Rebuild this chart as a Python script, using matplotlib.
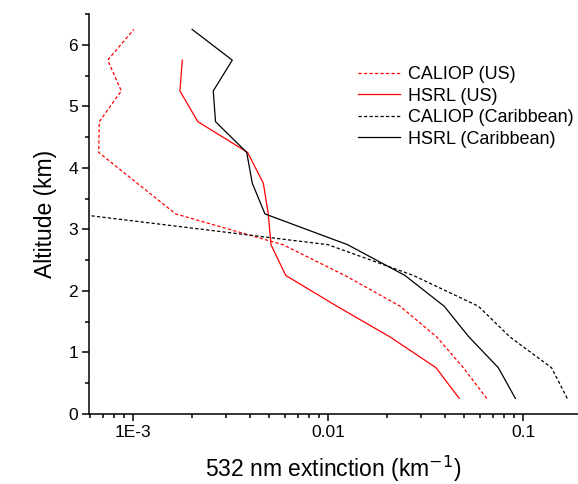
import matplotlib
matplotlib.use("Agg")
import matplotlib.pyplot as plt
from matplotlib.ticker import LogLocator, FixedLocator, MultipleLocator, NullFormatter

plt.rcParams['font.family'] = ['Liberation Sans', 'DejaVu Sans']
plt.rcParams['mathtext.fontset'] = 'custom'
plt.rcParams['mathtext.rm'] = 'Liberation Sans'
plt.rcParams['mathtext.it'] = 'Liberation Sans'

alt_full = [0.25, 0.75, 1.25, 1.75, 2.25, 2.75, 3.25, 3.75, 4.25, 4.75, 5.25, 5.75, 6.25]
alt_hsrl_us = [0.25, 0.75, 1.25, 1.75, 2.25, 2.75, 3.25, 3.75, 4.25, 4.75, 5.25, 5.75]
alt_caliop_car = [0.25, 0.75, 1.25, 1.75, 2.25, 2.75, 3.25]

caliop_us = [0.0652, 0.0494, 0.0361, 0.0234, 0.0122, 0.00587, 0.001655, 0.00105,
             0.000667, 0.000672, 0.000871, 0.000742, 0.00101]
hsrl_us = [0.0471, 0.0358, 0.0208, 0.0111, 0.00607, 0.0051, 0.00494, 0.00466,
           0.00387, 0.00215, 0.00174, 0.00179]
caliop_car = [0.1686, 0.140, 0.0857, 0.0590, 0.0274, 0.0100, 0.00051]
hsrl_car = [0.0914, 0.0747, 0.0528, 0.0394, 0.0248, 0.0126, 0.00475, 0.00409,
            0.00383, 0.00265, 0.00258, 0.00323, 0.00201]

labels = ['CALIOP (US)', 'HSRL (US)', 'CALIOP (Caribbean)', 'HSRL (Caribbean)']
xticks = [0.001, 0.01, 0.1]
xticklabels = ['1E-3', '0.01', '0.1']

fig = plt.figure(figsize=(5.78, 4.84), dpi=100)
ax = fig.add_axes([0.154, 0.145, 0.846, 0.826])

dash = (2.6, 1.8)
ax.plot(caliop_us, alt_full, color='#ff0000', lw=0.9, dashes=dash, label=labels[0])
ax.plot(hsrl_us, alt_hsrl_us, color='#ff0000', lw=0.9, label=labels[1])
ax.plot(caliop_car, alt_caliop_car, color='black', lw=0.9, dashes=dash, label=labels[2])
ax.plot(hsrl_car, alt_full, color='black', lw=0.9, label=labels[3])

ax.set_xscale('log')
ax.set_xlim(0.000595, 0.1914)
ax.set_ylim(0, 6.5)

ax.xaxis.set_major_locator(FixedLocator(xticks))
ax.set_xticklabels(xticklabels)
ax.xaxis.set_minor_locator(LogLocator(base=10, subs=range(2, 10)))
ax.xaxis.set_minor_formatter(NullFormatter())
ax.yaxis.set_major_locator(MultipleLocator(1))
ax.yaxis.set_minor_locator(MultipleLocator(0.5))

for s in ['top', 'right']:
    ax.spines[s].set_visible(False)
for s in ['left', 'bottom']:
    ax.spines[s].set_linewidth(1.1)

ax.tick_params(which='major', direction='out', length=5, width=1.1, labelsize=12.5, pad=3)
ax.tick_params(which='minor', direction='out', length=2.8, width=1.1)

ax.set_xlabel('532 nm extinction (km$^{\\mathsf{-1}}$)', fontsize=16.5, labelpad=10)
ax.set_ylabel('Altitude (km)', fontsize=16.5, labelpad=8)

leg = ax.legend(loc='upper left', bbox_to_anchor=(0.536, 0.8875), frameon=False,
                fontsize=13, handlelength=2.3, handletextpad=0.45, labelspacing=0.25,
                borderaxespad=0)

fig.savefig('out.png', dpi=100)
